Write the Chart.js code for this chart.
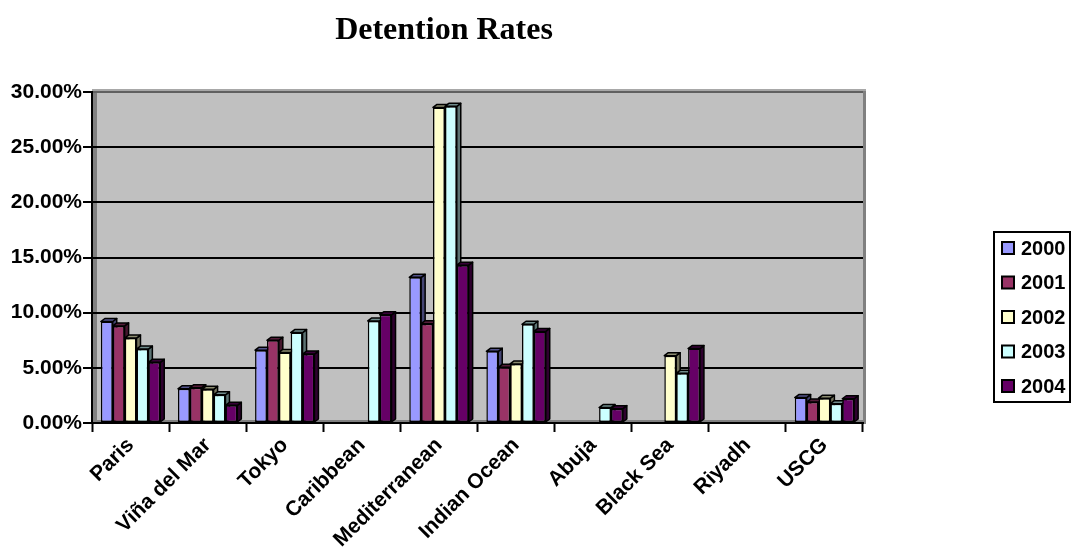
<!DOCTYPE html>
<html>
<head>
<meta charset="utf-8">
<title>Detention Rates</title>
<script src="https://cdn.jsdelivr.net/npm/chart.js@4/dist/chart.umd.min.js"></script>
<style>
  body { margin: 0; background: #fff; }
  canvas { display: block; }
</style>
</head>
<body>
<canvas id="chart" width="1071" height="547"></canvas>
<script>
// values (fractions, shown as %)
const categories = ['Paris', 'Viña del Mar', 'Tokyo', 'Caribbean', 'Mediterranean',
  'Indian Ocean', 'Abuja', 'Black Sea', 'Riyadh', 'USCG'];
const years = ['2000', '2001', '2002', '2003', '2004'];
const rates2000 = [0.092, 0.031, 0.066, null, 0.132, 0.065, null, null, null, 0.023];
const rates2001 = [0.088, 0.032, 0.075, null, 0.090, 0.0505, null, null, null, 0.019];
const rates2002 = [0.077, 0.0305, 0.064, null, 0.286, 0.0535, null, 0.061, null, 0.0225];
const rates2003 = [0.067, 0.0255, 0.082, 0.0925, 0.287, 0.0895, 0.014, 0.045, null, 0.0175];
const rates2004 = [0.055, 0.016, 0.0625, 0.098, 0.143, 0.083, 0.013, 0.0675, null, 0.022];
const colors = ['#9999FF', '#993366', '#FFFFCC', '#CCFFFF', '#660066'];

const DX = 4, DY = 3;

function shade(hex, f) {
  const n = parseInt(hex.slice(1), 16);
  const r = Math.round(((n >> 16) & 255) * f);
  const g = Math.round(((n >> 8) & 255) * f);
  const b = Math.round((n & 255) * f);
  return `rgb(${r},${g},${b})`;
}

// grey plot wall + title + boxed legend
const frame = {
  id: 'frame',
  beforeDraw(chart) {
    const {ctx, chartArea: a} = chart;
    ctx.save();
    ctx.fillStyle = '#C0C0C0';
    ctx.fillRect(a.left, a.top, a.right - a.left, a.bottom - a.top);
    ctx.fillStyle = '#A8A8A8';
    ctx.fillRect(a.left, a.top - 3, a.right - a.left + 3, 3);
    ctx.fillStyle = '#808080';
    ctx.fillRect(a.right, a.top - 1, 3, a.bottom - a.top + 2);
    ctx.fillRect(a.left + 1, a.top, 4, a.bottom - a.top);
    ctx.fillRect(a.left, a.bottom - 3, a.right - a.left, 3);
    ctx.restore();
  },
  afterDraw(chart) {
    const ctx = chart.ctx;
    ctx.save();
    ctx.fillStyle = '#000';
    ctx.font = 'bold 32px "Liberation Serif", "Times New Roman", serif';
    ctx.textAlign = 'center';
    ctx.textBaseline = 'alphabetic';
    ctx.fillText('Detention Rates', 444, 39);

    // legend
    ctx.lineWidth = 2;
    ctx.strokeStyle = '#000';
    ctx.strokeRect(994, 232, 76, 170);
    ctx.font = 'bold 20px "Liberation Sans", Arial, sans-serif';
    ctx.textAlign = 'left';
    ctx.textBaseline = 'middle';
    chart.data.datasets.forEach((ds, i) => {
      const cy = 248 + i * 34.5;
      ctx.fillStyle = ds.backgroundColor;
      ctx.fillRect(1002, cy - 6, 12, 12);
      ctx.lineWidth = 2;
      ctx.strokeRect(1002, cy - 6, 12, 12);
      ctx.fillStyle = '#000';
      ctx.fillText(ds.label, 1021, cy + 1);
    });
    ctx.restore();
  }
};

// top and side faces of each column, drawn under the fronts
const bar3d = {
  id: 'bar3d',
  beforeDatasetsDraw(chart) {
    const ctx = chart.ctx;
    ctx.save();
    ctx.lineWidth = 1.5;
    ctx.strokeStyle = '#000';
    ctx.lineJoin = 'round';
    chart.data.datasets.forEach((ds, di) => {
      const meta = chart.getDatasetMeta(di);
      meta.data.forEach((bar, i) => {
        if (ds.data[i] == null) return;
        const {x, y, base, width} = bar.getProps(['x', 'y', 'base', 'width'], true);
        const l = x - width / 2, r = x + width / 2;
        ctx.fillStyle = shade(ds.backgroundColor, 0.45);
        ctx.beginPath();
        ctx.moveTo(r, base);
        ctx.lineTo(r, y);
        ctx.lineTo(r + DX, y - DY);
        ctx.lineTo(r + DX, base - DY);
        ctx.closePath();
        ctx.fill();
        ctx.stroke();
        ctx.fillStyle = shade(ds.backgroundColor, 0.55);
        ctx.beginPath();
        ctx.moveTo(l, y);
        ctx.lineTo(l + DX, y - DY);
        ctx.lineTo(r + DX, y - DY);
        ctx.lineTo(r, y);
        ctx.closePath();
        ctx.fill();
        ctx.stroke();
      });
    });
    ctx.restore();
  }
};

const series = [rates2000, rates2001, rates2002, rates2003, rates2004];

new Chart(document.getElementById('chart'), {
  type: 'bar',
  data: {
    labels: categories,
    datasets: series.map((vals, i) => ({
      label: years[i],
      data: vals,
      backgroundColor: colors[i],
      borderColor: '#000',
      borderWidth: 1.5,
      borderSkipped: false,
      categoryPercentage: 0.77,
      barPercentage: 1
    }))
  },
  options: {
    responsive: false,
    animation: false,
    layout: { padding: { top: 92, right: 208, left: 0, bottom: 0 } },
    plugins: {
      legend: { display: false },
      title: { display: false },
      tooltip: { enabled: false }
    },
    scales: {
      x: {
        afterFit(scale) { scale.height = 124; },
        grid: {
          drawOnChartArea: false,
          drawTicks: true,
          tickLength: 9,
          tickColor: '#000',
          tickWidth: 2,
          offset: true
        },
        border: { color: '#000', width: 2 },
        ticks: {
          autoSkip: false,
          minRotation: 45,
          maxRotation: 45,
          padding: 1,
          color: '#000',
          font: { family: '"Liberation Sans", Arial, sans-serif', size: 21, weight: 'bold' }
        }
      },
      y: {
        min: 0,
        max: 0.30,
        afterFit(scale) { scale.width = 92; },
        grid: {
          color: (c) => (c.tick && c.tick.value >= 0.299 ? '#606060' : '#000'),
          lineWidth: 2,
          tickLength: 9,
          tickColor: '#000',
          tickWidth: 2
        },
        border: { color: '#000', width: 2 },
        ticks: {
          stepSize: 0.05,
          padding: 1,
          color: '#000',
          font: { family: '"Liberation Sans", Arial, sans-serif', size: 21, weight: 'bold' },
          callback: (v) => (v * 100).toFixed(2) + '%'
        }
      }
    }
  },
  plugins: [frame, bar3d]
});
</script>
</body>
</html>
